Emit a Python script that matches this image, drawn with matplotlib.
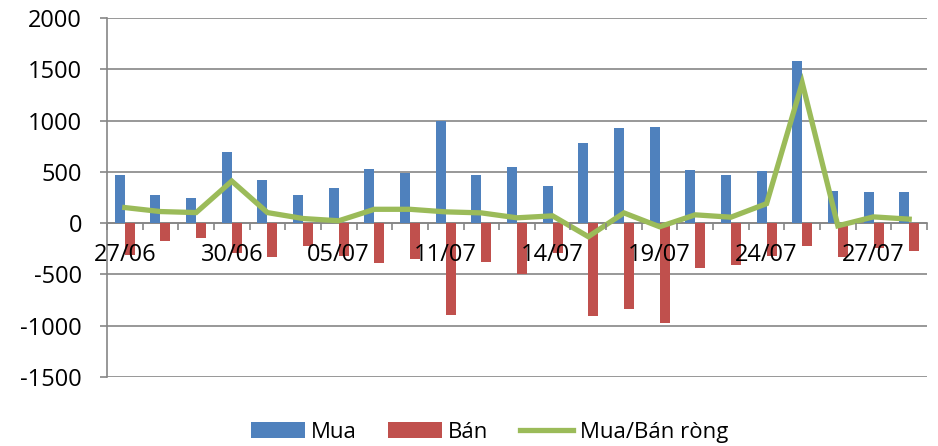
import matplotlib
matplotlib.use("Agg")
import matplotlib.pyplot as plt
import numpy as np
from matplotlib.patches import Patch
from matplotlib.lines import Line2D

plt.rcParams['font.family'] = ['Open Sans', 'DejaVu Sans']
plt.rcParams['axes.unicode_minus'] = False

dates = ["27/06", "", "", "30/06", "", "", "05/07", "", "", "11/07", "", "",
         "14/07", "", "", "19/07", "", "", "24/07", "", "", "27/07", ""]
mua = [465, 277, 245, 697, 423, 271, 342, 523, 487, 1000, 474, 552,
       361, 781, 929, 942, 519, 465, 513, 1584, 313, 303, 303]
ban = [-313, -171, -145, -287, -326, -226, -320, -390, -352, -900, -381, -497,
       -290, -907, -839, -971, -442, -406, -323, -226, -326, -245, -271]
net = [152, 113, 103, 410, 103, 45, 23, 135, 135, 110, 100, 52,
       71, -132, 100, -35, 81, 58, 190, 1368, -26, 61, 39]

blue = "#4F81BD"
red = "#C0504D"
green = "#9BBB59"
grey = "#868686"

fig = plt.figure(figsize=(9.38, 4.46), dpi=100)
ax = fig.add_axes([107/938, 1-377/446, 820/938, (377-18)/446])

x = np.arange(len(mua))
w = 0.28
ax.bar(x - w/2, mua, width=w, color=blue, zorder=2)
ax.bar(x + w/2, ban, width=w, color=red, zorder=2)
ax.plot(x, net, color=green, linewidth=3.8, zorder=3, solid_joinstyle='miter')

ax.set_xlim(-0.5, len(mua) - 0.5)
ax.set_ylim(-1500, 2000)
ax.set_yticks(np.arange(-1500, 2001, 500))
ax.yaxis.grid(True, color=grey, linewidth=1.2, zorder=0)
ax.set_axisbelow(True)

for s in ['top', 'right']:
    ax.spines[s].set_visible(False)
ax.spines['left'].set_color(grey)
ax.spines['left'].set_linewidth(1.2)
ax.spines['bottom'].set_position(('data', 0))
ax.spines['bottom'].set_color(grey)
ax.spines['bottom'].set_linewidth(1.2)
ax.spines['bottom'].set_zorder(1)

ax.tick_params(axis='y', length=5, width=1.2, color=grey, pad=13, labelsize=17)

ax.set_xticks(np.arange(-0.5, len(mua), 1.0))
ax.set_xticklabels([])
ax.tick_params(axis='x', which='major', length=5, width=1.2, color=grey, direction='out')
ax.set_xticks(x, minor=True)
ax.set_xticklabels(dates, minor=True)
ax.tick_params(axis='x', which='minor', length=0, pad=14, labelsize=17)
ax.xaxis.set_zorder(5)

handles = [Patch(facecolor=blue, label="Mua"),
           Patch(facecolor=red, label="Bán"),
           Line2D([0], [0], color=green, linewidth=3.8, label="Mua/Bán ròng")]
fig.legend(handles=handles, loc='center', bbox_to_anchor=(0.522, 0.031),
           ncol=3, frameon=False, fontsize=16, handlelength=2.4,
           handleheight=0.7, handletextpad=0.3, columnspacing=1.4)

fig.savefig("out.png", dpi=100)
